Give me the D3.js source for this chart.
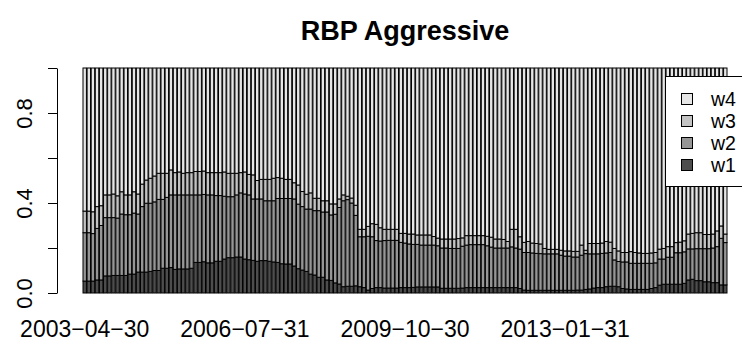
<!DOCTYPE html>
<html><head><meta charset="utf-8">
<script src="https://cdn.jsdelivr.net/npm/d3@7"></script>
<style>body{margin:0;background:#fff} svg{display:block} text{font-family:"Liberation Sans",Arial,sans-serif}</style>
</head><body><svg id="c" width="742" height="345"></svg>
<script>
const w1 = [0.053,0.053,0.053,0.058,0.058,0.076,0.076,0.078,0.078,0.078,
0.078,0.084,0.084,0.093,0.093,0.093,0.096,0.100,0.100,0.110,
0.110,0.113,0.105,0.107,0.107,0.107,0.110,0.136,0.136,0.139,
0.134,0.134,0.141,0.141,0.151,0.157,0.157,0.160,0.160,0.151,
0.148,0.145,0.141,0.144,0.144,0.141,0.138,0.136,0.130,0.129,
0.129,0.120,0.108,0.102,0.096,0.084,0.080,0.070,0.070,0.058,
0.056,0.045,0.040,0.028,0.030,0.030,0.032,0.028,0.024,0.013,
0.020,0.024,0.024,0.022,0.022,0.022,0.022,0.024,0.024,0.024,
0.025,0.027,0.027,0.027,0.027,0.027,0.027,0.021,0.021,0.021,
0.021,0.021,0.022,0.024,0.024,0.024,0.024,0.024,0.024,0.024,
0.024,0.024,0.024,0.024,0.024,0.024,0.020,0.013,0.012,0.012,
0.012,0.012,0.012,0.012,0.012,0.012,0.012,0.012,0.012,0.012,
0.013,0.013,0.016,0.018,0.022,0.024,0.024,0.028,0.030,0.030,
0.028,0.020,0.018,0.016,0.016,0.016,0.016,0.016,0.020,0.024,
0.035,0.039,0.039,0.039,0.039,0.039,0.043,0.058,0.061,0.055,
0.055,0.050,0.050,0.046,0.046,0.036,0.036];
const w2 = [0.215,0.215,0.211,0.229,0.242,0.259,0.259,0.257,0.255,0.273,
0.270,0.264,0.271,0.258,0.291,0.306,0.303,0.305,0.316,0.306,
0.315,0.323,0.331,0.329,0.329,0.329,0.326,0.300,0.300,0.299,
0.302,0.302,0.292,0.292,0.279,0.271,0.271,0.276,0.285,0.289,
0.288,0.273,0.277,0.274,0.266,0.269,0.272,0.284,0.290,0.291,
0.291,0.298,0.287,0.282,0.277,0.289,0.286,0.296,0.290,0.302,
0.291,0.305,0.340,0.382,0.385,0.370,0.313,0.222,0.226,0.239,
0.230,0.209,0.207,0.211,0.212,0.212,0.212,0.201,0.198,0.194,
0.191,0.189,0.186,0.186,0.186,0.186,0.183,0.179,0.179,0.177,
0.177,0.177,0.186,0.189,0.191,0.191,0.191,0.191,0.186,0.180,
0.176,0.176,0.176,0.176,0.181,0.176,0.175,0.167,0.168,0.166,
0.164,0.163,0.162,0.162,0.162,0.162,0.156,0.152,0.152,0.148,
0.147,0.155,0.159,0.156,0.152,0.150,0.152,0.150,0.150,0.117,
0.112,0.118,0.120,0.116,0.116,0.116,0.116,0.116,0.112,0.110,
0.116,0.112,0.120,0.120,0.140,0.140,0.140,0.138,0.135,0.142,
0.142,0.147,0.147,0.154,0.160,0.207,0.188];
const w3 = [0.096,0.096,0.097,0.097,0.088,0.101,0.101,0.105,0.099,0.099,
0.088,0.088,0.095,0.089,0.100,0.103,0.111,0.115,0.116,0.116,
0.107,0.111,0.099,0.102,0.096,0.099,0.099,0.104,0.104,0.104,
0.099,0.099,0.102,0.102,0.108,0.104,0.104,0.096,0.090,0.098,
0.091,0.107,0.082,0.087,0.095,0.095,0.100,0.093,0.090,0.085,
0.085,0.072,0.085,0.067,0.066,0.072,0.055,0.055,0.050,0.050,
0.049,0.046,0.038,0.026,0.015,0.022,0.045,0.033,0.033,0.044,
0.058,0.072,0.059,0.050,0.049,0.049,0.049,0.040,0.043,0.044,
0.046,0.042,0.045,0.045,0.045,0.038,0.034,0.040,0.040,0.042,
0.042,0.044,0.037,0.042,0.040,0.040,0.040,0.040,0.042,0.044,
0.040,0.040,0.038,0.029,0.078,0.083,0.055,0.045,0.049,0.044,
0.044,0.043,0.024,0.020,0.020,0.020,0.022,0.023,0.023,0.025,
0.025,0.045,0.015,0.046,0.046,0.046,0.046,0.051,0.046,0.051,
0.047,0.042,0.042,0.052,0.048,0.046,0.044,0.044,0.046,0.046,
0.044,0.047,0.047,0.047,0.045,0.047,0.049,0.066,0.069,0.071,
0.071,0.063,0.063,0.062,0.070,0.055,0.038];
const w4 = [0.636,0.636,0.639,0.616,0.612,0.564,0.564,0.560,0.568,0.550,
0.564,0.564,0.550,0.560,0.516,0.498,0.490,0.480,0.468,0.468,
0.468,0.453,0.465,0.462,0.468,0.465,0.465,0.460,0.460,0.458,
0.465,0.465,0.465,0.465,0.462,0.468,0.468,0.468,0.465,0.462,
0.473,0.475,0.500,0.495,0.495,0.495,0.490,0.487,0.490,0.495,
0.495,0.510,0.520,0.549,0.561,0.555,0.579,0.579,0.590,0.590,
0.604,0.604,0.582,0.564,0.570,0.578,0.610,0.717,0.717,0.704,
0.692,0.695,0.710,0.717,0.717,0.717,0.717,0.735,0.735,0.738,
0.738,0.742,0.742,0.742,0.742,0.749,0.756,0.760,0.760,0.760,
0.760,0.758,0.755,0.745,0.745,0.745,0.745,0.745,0.748,0.752,
0.760,0.760,0.762,0.771,0.717,0.717,0.750,0.775,0.771,0.778,
0.780,0.782,0.802,0.806,0.806,0.806,0.810,0.813,0.813,0.815,
0.815,0.787,0.810,0.780,0.780,0.780,0.778,0.771,0.774,0.802,
0.813,0.820,0.820,0.816,0.820,0.822,0.824,0.824,0.822,0.820,
0.805,0.802,0.794,0.794,0.776,0.774,0.768,0.738,0.735,0.732,
0.732,0.740,0.740,0.738,0.724,0.702,0.738];
const seriesNames = ["w1","w2","w3","w4"];
const seriesColors = ["#4D4D4D","#969696","#C3C3C3","#E6E6E6"];
const xTickLabels = ["2003-04-30","2006-07-31","2009-10-30","2013-01-31"];
const yTicks = [0,0.2,0.4,0.6,0.8,1];
const yTickLabels = ["0.0","","0.4","","0.8",""];
const chartTitle = "RBP Aggressive";

// categories: last business day of each month starting April 2003
function lastBizDay(y, m) {
  const d = new Date(Date.UTC(y, m + 1, 0));
  while (d.getUTCDay() === 0 || d.getUTCDay() === 6) d.setUTCDate(d.getUTCDate() - 1);
  return d.toISOString().slice(0, 10);
}
const categories = w1.map((_, i) => lastBizDay(2003, 3 + i));
const series = {w1, w2, w3, w4};
const rows = categories.map((c, i) => {
  const r = {date: c};
  seriesNames.forEach(k => r[k] = series[k][i]);
  return r;
});

const svg = d3.select("#c");
svg.append("rect").attr("width", 742).attr("height", 345).attr("fill", "#fff");

const x = d3.scaleBand().domain(categories).range([83, 727]).paddingInner(1/6).paddingOuter(0);
const y = d3.scaleLinear().domain([0, 1]).range([293, 68]);
const color = d3.scaleOrdinal().domain(seriesNames).range(seriesColors);

const stacked = d3.stack().keys(seriesNames)(rows);
const layers = svg.append("g");
stacked.forEach(layer => {
  layers.append("g").selectAll("rect").data(layer).join("rect")
    .attr("x", d => x(d.data.date))
    .attr("y", d => y(d[1]))
    .attr("width", x.bandwidth())
    .attr("height", d => y(d[0]) - y(d[1]))
    .attr("fill", color(layer.key))
    .attr("stroke", "#000")
    .attr("stroke-width", 1);
});

// y axis
const yAxis = svg.append("g").attr("transform", "translate(57,0)")
  .call(d3.axisLeft(y).tickValues(yTicks).tickSize(9).tickSizeOuter(0).tickFormat((d, i) => yTickLabels[i]));
yAxis.select(".domain").attr("stroke", "#000");
yAxis.selectAll(".tick line").attr("stroke", "#000");
yAxis.selectAll(".tick text")
  .attr("transform", "rotate(-90)")
  .attr("x", 0).attr("y", -25).attr("dy", 0)
  .attr("text-anchor", "middle")
  .attr("font-size", 22)
  .attr("font-family", "Liberation Sans, Arial, sans-serif")
  .attr("fill", "#000");

// x labels
svg.append("g").selectAll("text").data(xTickLabels).join("text")
  .attr("x", d => x(d) + x.bandwidth() / 2)
  .attr("y", 337)
  .attr("text-anchor", "middle")
  .attr("font-size", 23)
  .attr("fill", "#000")
  .text(d => d.replace(/-/g, "\u2212"));

// title
svg.append("text").attr("x", 405).attr("y", 40).attr("text-anchor", "middle")
  .attr("font-size", 27).attr("font-weight", "bold").attr("fill", "#000").text(chartTitle);

// legend
const lg = svg.append("g");
lg.append("rect").attr("x", 665.5).attr("y", 76.5).attr("width", 100).attr("height", 110)
  .attr("fill", "#fff").attr("stroke", "#000");
const legendKeys = seriesNames.slice().reverse();
legendKeys.forEach((k, i) => {
  const cy = 99 + i * 22;
  lg.append("rect").attr("x", 681.5).attr("y", cy - 5.5).attr("width", 11).attr("height", 11)
    .attr("fill", color(k)).attr("stroke", "#000");
  lg.append("text").attr("x", 711).attr("y", cy + 7).attr("font-size", 19.5).attr("fill", "#000").text(k);
});
</script>
</body></html>
